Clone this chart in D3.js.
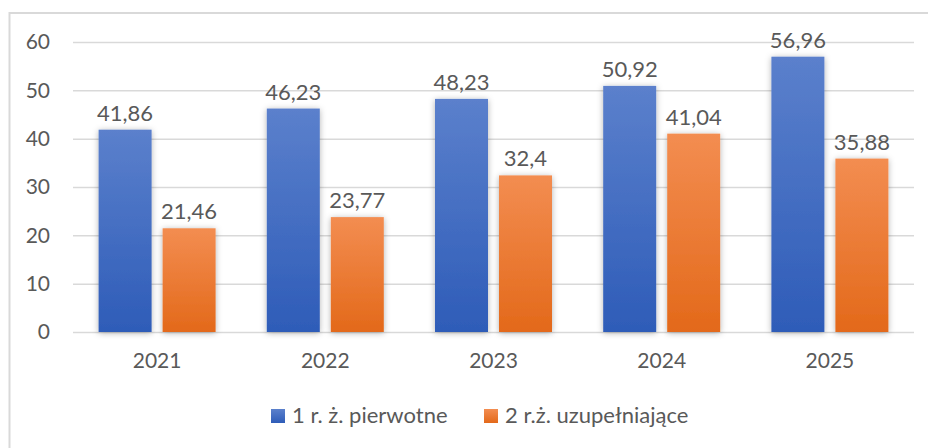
<!DOCTYPE html>
<html>
<head>
<meta charset="utf-8">
<script src="https://cdn.jsdelivr.net/npm/d3@7"></script>
<style>
  body { margin: 0; background: #fff; }
  svg text { font-family: Lato, "Open Sans", sans-serif; fill: #595959; }
</style>
</head>
<body>
<svg id="chart" width="928" height="448"></svg>
<script>
var years = ["2021", "2022", "2023", "2024", "2025"];
var seriesNames = ["1 r. ż. pierwotne", "2 r.ż. uzupełniające"];
var primary = [41.86, 46.23, 48.23, 50.92, 56.96];
var supplementary = [21.46, 23.77, 32.4, 41.04, 35.88];
var yTicks = [0, 10, 20, 30, 40, 50, 60];
var labelsPrimary = ["41,86", "46,23", "48,23", "50,92", "56,96"];
var labelsSupplementary = ["21,46", "23,77", "32,4", "41,04", "35,88"];

var svg = d3.select("#chart");

//gradients and shadow
var defs = svg.append("defs");
var grads = [["gBlue", "#5b80cc", "#2e5cb8"], ["gOrange", "#f38d51", "#e3691a"]];
grads.forEach(function(g){
  var lg = defs.append("linearGradient")
               .attr("id", g[0])
               .attr("x1", 0).attr("y1", 0).attr("x2", 0).attr("y2", 1);
  lg.append("stop").attr("offset", "0%").attr("stop-color", g[1]);
  lg.append("stop").attr("offset", "100%").attr("stop-color", g[2]);
});
var shadow = defs.append("filter")
                 .attr("id", "shadow")
                 .attr("x", "-30%").attr("y", "-10%")
                 .attr("width", "160%").attr("height", "120%");
shadow.append("feDropShadow")
      .attr("dx", 0).attr("dy", 1)
      .attr("stdDeviation", 3)
      .attr("flood-color", "#000")
      .attr("flood-opacity", 0.3);

//outer frame
svg.append("rect")
   .attr("x", 9.5).attr("y", 13)
   .attr("width", 940).attr("height", 460)
   .attr("fill", "none")
   .attr("stroke", "#d9d9d9")
   .attr("stroke-width", 2);

//scales
var x0 = d3.scaleBand()
           .domain(years)
           .range([73, 914]);
var x1 = d3.scaleBand()
           .domain([0, 1])
           .range([0, x0.bandwidth()])
           .paddingInner(0.172)
           .paddingOuter(0.4);
var yScale = d3.scaleLinear()
               .domain([0, 60])
               .range([332, 42]);

//grid + y axis labels
var yAxis = d3.axisLeft()
              .scale(yScale)
              .tickValues(yTicks)
              .tickSize(-(914 - 73))
              .tickPadding(23);
var yx = svg.append("g")
            .attr("transform", "translate(73, 0)")
            .attr("id", "yaxis")
            .call(yAxis);
yx.select(".domain").remove();
yx.selectAll("line")
  .attr("stroke", "#d9d9d9")
  .attr("stroke-width", 1.5);
yx.selectAll("text")
  .attr("font-size", "21px")
  .attr("fill", "#595959")
  .attr("font-family", "Lato, sans-serif");

//x axis labels
var xAxis = d3.axisBottom()
              .scale(x0)
              .tickSize(0)
              .tickPadding(21);
var xx = svg.append("g")
            .attr("transform", "translate(0, 332)")
            .attr("id", "xaxis")
            .call(xAxis);
xx.select(".domain").remove();
xx.selectAll("text")
  .attr("font-size", "21px")
  .attr("fill", "#595959")
  .attr("font-family", "Lato, sans-serif");

//bars
var rows = years.map(function(y, i){
  return {year: y, vals: [primary[i], supplementary[i]], labels: [labelsPrimary[i], labelsSupplementary[i]]};
});
var fills = ["url(#gBlue)", "url(#gOrange)"];

var groups = svg.append("g")
                .attr("id", "bars")
                .selectAll("g")
                .data(rows)
                .enter()
                .append("g")
                .attr("transform", function(d){ return "translate(" + x0(d.year) + ",0)"; });

groups.selectAll("rect")
      .data(function(d){ return d.vals.map(function(v, k){ return {k: k, v: v}; }); })
      .enter()
      .append("rect")
      .attr("x", function(d){ return x1(d.k); })
      .attr("y", function(d){ return yScale(d.v); })
      .attr("width", x1.bandwidth())
      .attr("height", function(d){ return yScale(0) - yScale(d.v); })
      .attr("fill", function(d){ return fills[d.k]; })
      .attr("filter", "url(#shadow)");

//value labels
groups.selectAll("text")
      .data(function(d){ return d.vals.map(function(v, k){ return {k: k, v: v, t: d.labels[k]}; }); })
      .enter()
      .append("text")
      .text(function(d){ return d.t; })
      .attr("x", function(d){ return x1(d.k) + x1.bandwidth() / 2; })
      .attr("y", function(d){ return yScale(d.v) - 9; })
      .attr("text-anchor", "middle")
      .attr("font-size", "22px");

//legend
var legendX = [271, 484];
var legend = svg.append("g").attr("id", "legend");
seriesNames.forEach(function(name, k){
  legend.append("rect")
        .attr("x", legendX[k]).attr("y", 409)
        .attr("width", 14).attr("height", 14)
        .attr("fill", fills[k]);
  legend.append("text")
        .attr("x", legendX[k] + 21).attr("y", 423)
        .attr("font-size", "22px")
        .text(name);
});
</script>
</body>
</html>
